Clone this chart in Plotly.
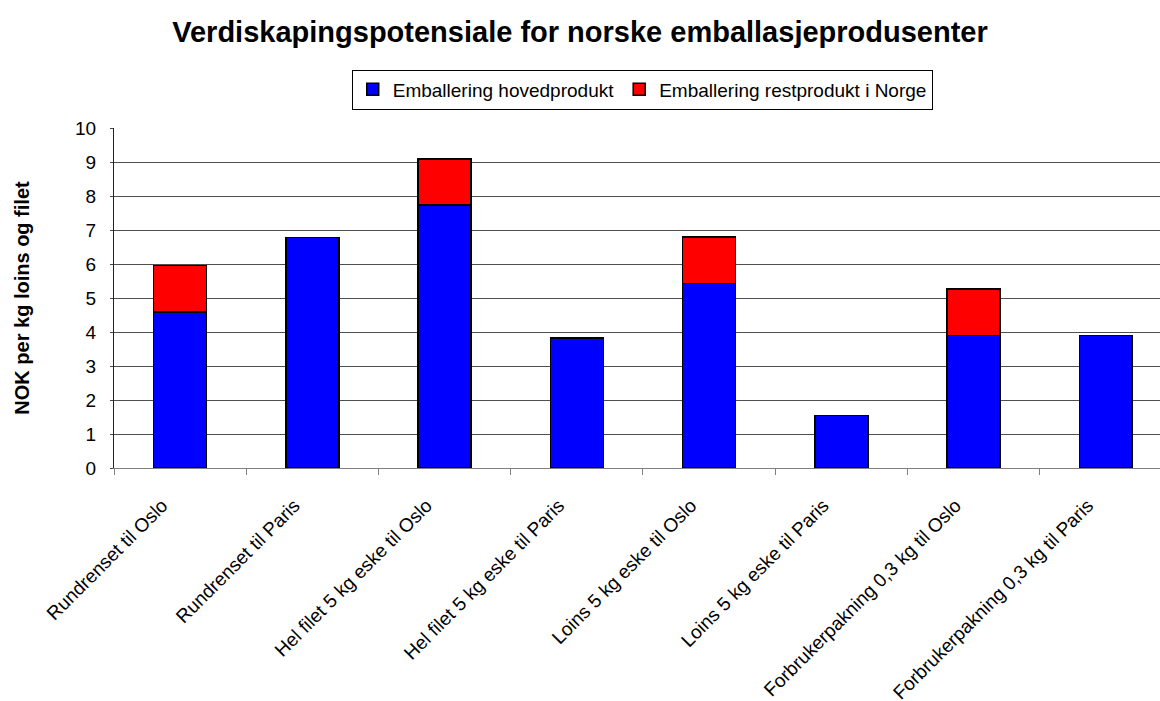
import plotly.graph_objects as go

# Categories and values (NOK per kg loins og filet)
categories = [
    "Rundrenset til Oslo",
    "Rundrenset til Paris",
    "Hel filet 5 kg eske til Oslo",
    "Hel filet 5 kg eske til Paris",
    "Loins 5 kg eske til Oslo",
    "Loins 5 kg eske til Paris",
    "Forbrukerpakning 0,3 kg til Oslo",
    "Forbrukerpakning 0,3 kg til Paris",
]
hovedprodukt = [4.59, 6.78, 7.73, 3.82, 5.43, 1.54, 3.89, 3.89]
restprodukt = [1.36, 0, 1.36, 0, 1.36, 0, 1.37, 0]

FONT = "Liberation Sans, Arial, sans-serif"

fig = go.Figure()
fig.add_trace(go.Bar(
    x=categories, y=hovedprodukt, name="Emballering hovedprodukt",
    marker=dict(color="#0000FF", line=dict(color="black", width=1.5)),
    width=0.4,
))
fig.add_trace(go.Bar(
    x=categories, y=restprodukt, name="Emballering restprodukt i Norge",
    marker=dict(color="#FF0000", line=dict(color="black", width=1.5)),
    width=0.4,
))

fig.update_layout(
    barmode="stack",
    width=1160, height=701,
    margin=dict(l=114, r=0, t=128, b=233),
    paper_bgcolor="white", plot_bgcolor="white",
    font=dict(family=FONT, size=19, color="black"),
    title=dict(
        text="<b>Verdiskapingspotensiale for norske emballasjeprodusenter</b>",
        x=0.5, xanchor="center", y=0.954, yanchor="middle",
        font=dict(family=FONT, size=29, color="black"),
    ),
    legend=dict(
        orientation="h", x=0.505, xanchor="center", y=1.172, yanchor="top",
        bordercolor="black", borderwidth=1, bgcolor="white",
        font=dict(family=FONT, size=19), itemwidth=30,
        traceorder="normal", tracegroupgap=0,
    ),
    showlegend=True,
)

fig.update_xaxes(
    range=[-0.5, 7.41],
    automargin=False,
    tickangle=-45,
    tickson="boundaries",
    ticks="outside", ticklen=6, tickcolor="#808080",
    showline=True, linecolor="#808080", linewidth=1,
    showgrid=False,
    ticklabelstandoff=18, ticklabelshift=-18,
    tickfont=dict(family=FONT, size=19),
)
fig.update_yaxes(
    range=[0, 10], dtick=1,
    automargin=False,
    ticks="outside", ticklen=3, tickcolor="#444",
    showline=True, linecolor="#222", linewidth=1,
    showgrid=True, gridcolor="#505050", gridwidth=1,
    zeroline=False,
    ticklabelstandoff=10,
    tickfont=dict(family=FONT, size=19),
    title=dict(text="<b>NOK per kg loins og filet</b>",
               font=dict(family=FONT, size=20), standoff=40),
)

fig.write_html("out.html")
